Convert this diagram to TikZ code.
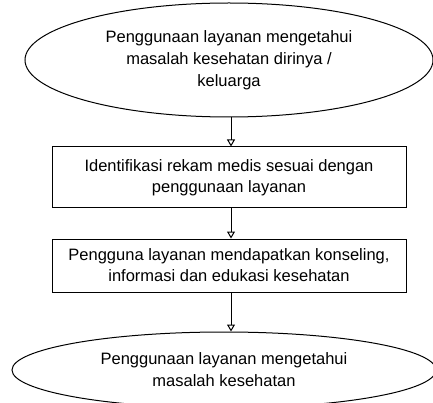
\documentclass[tikz,border=0pt]{standalone}
\usepackage{fontspec}
\setmainfont{Liberation Sans}
\usepackage{tikz}
\usetikzlibrary{arrows.meta,shapes.geometric,positioning}
\tikzset{>={Triangle[open,length=7pt,width=8pt]}}
\tikzset{
	ell/.style={draw,ellipse,line width=1pt,inner sep=0pt,align=center,font=\fontsize{16.5}{22}\selectfont},
	box/.style={draw,rectangle,line width=1pt,inner sep=0pt,align=center,font=\fontsize{16.5}{21}\selectfont},
}

\begin{document}
\begin{tikzpicture}[x=1pt,y=-1pt]
					\useasboundingbox (0,0) rectangle (433,403);
					%Ellipses
					
					\node[ell,minimum width=408pt,minimum height=114pt] (E1) at (229,60) {Penggunaan layanan mengetahui\\masalah kesehatan dirinya /\\keluarga};
					\node[ell,minimum width=424pt,minimum height=76pt] (E2) at (224,370) {Penggunaan layanan mengetahui\\masalah kesehatan};
					
					%Boxes
					
					\node[box,minimum width=354pt,minimum height=61pt] (B1) at (229,177.5) {Identifikasi rekam medis sesuai dengan\\penggunaan layanan};
					\node[box,minimum width=354pt,minimum height=53pt] (B2) at (229,265.5) {Pengguna layanan mendapatkan konseling,\\informasi dan edukasi kesehatan};
					
					%Arrows
					
					\draw[->,line width=1pt] ([xshift=2pt]E1.south) -- ([xshift=2pt]B1.north);
					\draw[->,line width=1pt] ([xshift=2pt]B1.south) -- ([xshift=2pt]B2.north);
					\draw[->,line width=1pt] ([xshift=2pt]B2.south) -- ([xshift=7pt]E2.north);
				\end{tikzpicture}
\end{document}
